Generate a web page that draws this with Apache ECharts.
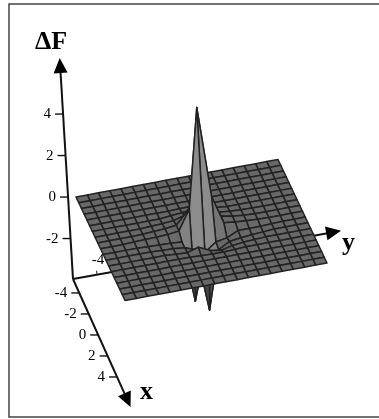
<!DOCTYPE html>
<html>
<head>
<meta charset="utf-8">
<style>
  html, body { margin: 0; padding: 0; background: #fff; overflow: hidden; }
  #main { width: 379px; height: 419px; }
  #main canvas { filter: blur(0.45px); }
</style>
<script src="https://cdn.jsdelivr.net/npm/echarts@6/dist/echarts.min.js"></script>
</head>
<body>
<div id="main"></div>
<script>
// grid nodes of the surface
var xValues = [-5, -4.44, -3.89, -3.33, -2.78, -2.22, -1.67, -1.11, -0.56, 0, 0.56, 1.11, 1.67, 2.22, 2.78, 3.33, 3.89, 4.44, 5]
var yValues = [-5, -4.44, -3.89, -3.33, -2.78, -2.22, -1.67, -1.11, -0.56, 0, 0.56, 1.11, 1.67, 2.22, 2.78, 3.33, 3.89, 4.44, 5]
// deltaF, one row per x node
var zRows = [
  [0, 0, 0, 0, 0, 0, 0, 0, 0, 0, 0, 0, 0, 0, 0, 0, 0, 0, 0],
  [0, 0, 0, 0, 0, 0, 0, 0, 0, 0, 0, 0, 0, 0, 0, 0, 0, 0, 0],
  [0, 0, 0, 0, 0, 0, 0, 0, 0, 0, 0, 0, 0, 0, 0, 0, 0, 0, 0],
  [0, 0, 0, 0, 0, 0, 0, 0, 0, 0, 0, 0, 0, 0, 0, 0, 0, 0, 0],
  [0, 0, 0, 0, 0, 0, 0, 0, 0, 0, 0, 0, 0, 0, 0, 0, 0, 0, 0],
  [0, 0, 0, 0, 0, 0, 0, 0, 0.02, 0.03, 0.02, 0, 0, 0, 0, 0, 0, 0, 0],
  [0, 0, 0, 0, 0, 0, 0, 0.05, 0.1, 0.15, 0.1, 0.05, 0, 0, 0, 0, 0, 0, 0],
  [0, 0, 0, 0, 0, 0.03, 0.05, 0.1, 0.25, 0.4, 0.35, 0.1, 0.05, 0.02, 0, 0, 0, 0, 0],
  [0, 0, 0, 0, 0.02, 0.05, 0.08, 0.15, 0.7, 1.5, 1.1, 0.2, 0.08, 0.03, 0, 0, 0, 0, 0],
  [0, 0, 0, 0.02, 0.04, 0.05, 0.08, 0.15, 1.1, 5.9, 1.5, 0.15, 0.08, 0.05, 0.02, 0, 0, 0, 0],
  [0, 0, 0, 0, -0.02, -0.04, -0.06, -0.1, -3.05, -0.8, -0.4, -0.3, -0.05, -0.05, -0.04, -0.02, 0, 0, 0],
  [0, 0, 0, 0, 0, -0.03, -0.05, -0.1, -0.3, -3.3, -0.5, -0.2, -0.12, -0.08, -0.04, 0, 0, 0, 0],
  [0, 0, 0, 0, 0, 0, -0.03, -0.06, 0.1, -0.15, -0.25, -0.12, -0.06, -0.03, 0, 0, 0, 0, 0],
  [0, 0, 0, 0, 0, 0, 0, 0, -0.03, -0.05, -0.05, -0.03, 0, 0, 0, 0, 0, 0, 0],
  [0, 0, 0, 0, 0, 0, 0, 0, 0, 0, 0, 0, 0, 0, 0, 0, 0, 0, 0],
  [0, 0, 0, 0, 0, 0, 0, 0, 0, 0, 0, 0, 0, 0, 0, 0, 0, 0, 0],
  [0, 0, 0, 0, 0, 0, 0, 0, 0, 0, 0, 0, 0, 0, 0, 0, 0, 0, 0],
  [0, 0, 0, 0, 0, 0, 0, 0, 0, 0, 0, 0, 0, 0, 0, 0, 0, 0, 0],
  [0, 0, 0, 0, 0, 0, 0, 0, 0, 0, 0, 0, 0, 0, 0, 0, 0, 0, 0]
]
var xTicks = [-4, -2, 0, 2, 4]
var yTicks = [-4, -2, 0, 2, 4]
var zTicks = [-2, 0, 2, 4]

// oblique projection, px per unit, measured on the picture
var origin = [73, 279]
var start = { x: -5.33, y: -5.2, z: -3.95 }
var end = { x: 6.86, y: 8.2, z: 6.7 }
var ex = [4.72, 10.5]
var ey = [20, -3.6]
var ez = [-1.25, -20.75]
// the surface sits a little off the axes frame, the plot has some perspective
var centre = [201.5, 230]
var sx = [4.9, 10.35]
var sy = [20.2, -3.75]
var sz = [-0.8, -20.75]
var serif = '"Liberation Serif", serif'

function axisPoint (api, name, v) {
  var dx = (name === 'x' ? v : start.x) - start.x
  var dy = (name === 'y' ? v : start.y) - start.y
  var dz = (name === 'z' ? v : start.z) - start.z
  return api.coord([
    origin[0] + dx * ex[0] + dy * ey[0] + dz * ez[0],
    origin[1] + dx * ex[1] + dy * ey[1] + dz * ez[1]
  ])
}

function surfacePoint (api, i, j) {
  var x = xValues[i]
  var y = yValues[j]
  var z = zRows[i][j]
  return api.coord([
    centre[0] + x * sx[0] + y * sy[0] + z * sz[0],
    centre[1] + x * sx[1] + y * sy[1] + z * sz[1]
  ])
}

function label (p, text, align) {
  return {
    type: 'text',
    style: {
      x: p[0],
      y: p[1],
      text: text,
      fill: '#000',
      font: '15px ' + serif,
      align: align || 'right',
      verticalAlign: 'middle'
    }
  }
}

function renderAxis (params, api) {
  var name = api.value(0) === 0 ? 'x' : api.value(0) === 1 ? 'y' : 'z'
  var a = axisPoint(api, name, start[name])
  var b = axisPoint(api, name, end[name])
  var len = Math.hypot(b[0] - a[0], b[1] - a[1])
  var ux = (b[0] - a[0]) / len
  var uy = (b[1] - a[1]) / len
  var children = [{
    type: 'line',
    shape: { x1: a[0], y1: a[1], x2: b[0] - ux * 8, y2: b[1] - uy * 8 },
    style: { stroke: '#111', lineWidth: 2 }
  }, {
    type: 'polygon',
    shape: { points: [b, [b[0] - ux * 15 - uy * 7, b[1] - uy * 15 + ux * 7], [b[0] - ux * 15 + uy * 7, b[1] - uy * 15 - ux * 7]] },
    style: { fill: '#000' }
  }]
  var ticks = name === 'x' ? xTicks : name === 'y' ? yTicks : zTicks
  ticks.forEach(function (t) {
    var p = axisPoint(api, name, t)
    if (name === 'y') {
      // y ticks stand up from the axis, label sits above
      children.push({ type: 'line', shape: { x1: p[0], y1: p[1], x2: p[0] - 0.4, y2: p[1] - 4 }, style: { stroke: '#222', lineWidth: 1 } })
      children.push(label([p[0] + 1, p[1] - 15], String(t), 'center'))
    } else {
      children.push({ type: 'line', shape: { x1: p[0], y1: p[1], x2: p[0] - 8, y2: p[1] }, style: { stroke: '#111', lineWidth: 1.4 } })
      children.push(label([p[0] - 12, p[1] + 0.5], String(t)))
    }
  })
  return { type: 'group', children: children }
}

function shade (i, j) {
  // lighter where the cell tips towards the viewer, dark on the back of the dips
  var hx = xValues[i + 1] - xValues[i]
  var hy = yValues[j + 1] - yValues[j]
  var dzdx = (zRows[i + 1][j] + zRows[i + 1][j + 1] - zRows[i][j] - zRows[i][j + 1]) / (2 * hx)
  var dzdy = (zRows[i][j + 1] + zRows[i + 1][j + 1] - zRows[i][j] - zRows[i + 1][j]) / (2 * hy)
  var g = Math.round(104 - 8 * dzdx + 3 * dzdy)
  g = Math.max(45, Math.min(g, 140))
  return 'rgb(' + g + ',' + g + ',' + g + ')'
}

function renderCell (params, api) {
  var i = api.value(0)
  var j = api.value(1)
  return {
    type: 'polygon',
    shape: {
      points: [
        surfacePoint(api, i, j),
        surfacePoint(api, i, j + 1),
        surfacePoint(api, i + 1, j + 1),
        surfacePoint(api, i + 1, j)
      ]
    },
    style: { fill: shade(i, j), stroke: '#222', lineWidth: 1.5, lineJoin: 'round' }
  }
}

// far cells first: camera looks from +x, -y, +z
var cells = []
for (var i = 0; i < xValues.length - 1; i++) {
  for (var j = yValues.length - 2; j >= 0; j--) {
    cells.push([i, j])
  }
}

var chart = echarts.init(document.getElementById('main'))
chart.setOption({
  animation: false,
  backgroundColor: '#fff',
  grid: { left: 0, right: 0, top: 0, bottom: 0 },
  xAxis: { type: 'value', min: 0, max: 379, show: false },
  yAxis: { type: 'value', min: 0, max: 419, inverse: true, show: false },
  graphic: [
    { type: 'rect', shape: { x: 9, y: 4, width: 380, height: 413 }, style: { fill: 'none', stroke: '#444', lineWidth: 1.5 } },
    { type: 'text', style: { x: 35, y: 42, text: 'ΔF', fill: '#000', font: 'bold 26px ' + serif, verticalAlign: 'middle' } },
    { type: 'text', style: { x: 140, y: 392, text: 'x', fill: '#000', font: 'bold 26px ' + serif, verticalAlign: 'middle' } },
    { type: 'text', style: { x: 342, y: 243, text: 'y', fill: '#000', font: 'bold 26px ' + serif, verticalAlign: 'middle' } }
  ],
  series: [
    { type: 'custom', coordinateSystem: 'cartesian2d', clip: false, z: 1, silent: true, data: [[0], [1], [2]], renderItem: renderAxis },
    { type: 'custom', coordinateSystem: 'cartesian2d', clip: false, z: 2, silent: true, data: cells, renderItem: renderCell }
  ]
})
</script>
</body>
</html>
